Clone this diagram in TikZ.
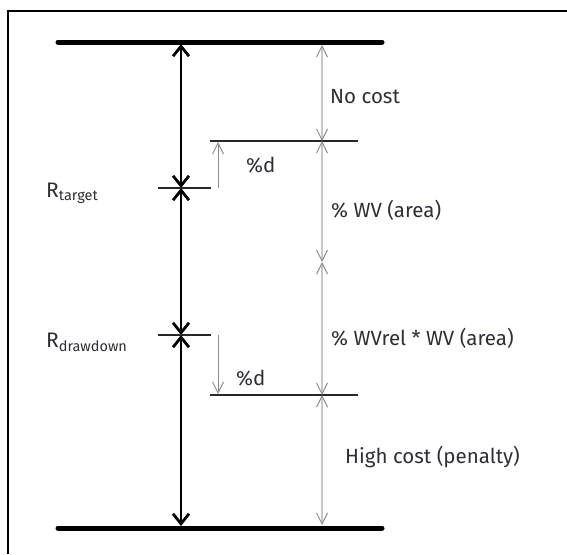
\documentclass[tikz,border=0pt]{standalone}
\usepackage{fontspec}
\setmainfont{Fira Sans}
\usetikzlibrary{arrows.meta}
\definecolor{txt}{HTML}{2E2E38}
\definecolor{lgray}{HTML}{C8C8C8}
\definecolor{tipgray}{HTML}{8C8C8C}
\begin{document}
\begin{tikzpicture}[x=1pt,y=-1pt,
  bar/.style={line width=5pt,line cap=round},
  frame/.style={line width=2pt},
  blk/.style={line width=2.8pt,{Straight Barb[length=10pt,width=16pt,line width=2.8pt]}-{Straight Barb[length=10pt,width=16pt,line width=2.8pt]}},
  gry/.style={line width=1.6pt,lgray,{Straight Barb[length=11pt,width=11pt,line width=1pt,color=tipgray]}-{Straight Barb[length=11pt,width=11pt,line width=1pt,color=tipgray]}},
  pct/.style={line width=1pt,tipgray,-{Straight Barb[length=11pt,width=11pt,line width=1pt]}},
  thin/.style={line width=1.2pt,black!85},
  lbl/.style={anchor=west,inner sep=0pt,text=txt,font=\fontsize{20.5}{24}\selectfont},
  rl/.style={anchor=west,inner sep=0pt,text=txt,font=\fontsize{21}{24}\selectfont}
]
\useasboundingbox (0,0) rectangle (567,554);
% frame
\draw[frame] (8,554) -- (8,11) -- (567,11);
% bars
\coordinate (tl) at (58,42); \coordinate (tr) at (382,42);
\coordinate (bl) at (58,528); \coordinate (br) at (382,528);
\draw[bar] (tl) -- (tr);
\draw[bar] (bl) -- (br);
% black column
\coordinate (b0) at (181,44);
\coordinate (b1) at (181,188);
\coordinate (b2) at (181,335);
\coordinate (b3) at (181,526);
\draw[blk] (b0) -- (b1);
\draw[blk] (b1) -- (b2);
\draw[blk] (b2) -- (b3);
% short R lines
\coordinate (rt1) at (158,188); \coordinate (rt2) at (211,188);
\coordinate (rd1) at (158,335); \coordinate (rd2) at (211,335);
\draw[thin] (rt1) -- (rt2);
\draw[thin] (rd1) -- (rd2);
% horizontal lines
\coordinate (h1a) at (210,141); \coordinate (h1b) at (358,141);
\coordinate (h2a) at (210,395); \coordinate (h2b) at (358,395);
\draw[thin] (h1a) -- (h1b);
\draw[thin] (h2a) -- (h2b);
% gray column
\coordinate (g0) at (322,45);
\coordinate (g1) at (322,141);
\coordinate (g2) at (322,262);
\coordinate (g3) at (322,395);
\coordinate (g4) at (322,525);
\draw[gry] (g0) -- (g1);
\draw[gry] (g1) -- (g2);
\draw[gry] (g2) -- (g3);
\draw[gry] (g3) -- (g4);
% %d arrows
\coordinate (d1s) at (218,188); \coordinate (d1e) at (218,142);
\coordinate (d2s) at (218,335); \coordinate (d2e) at (218,394);
\draw[pct] (d1s) -- (d1e);
\draw[pct] (d2s) -- (d2e);
% labels
\node[lbl] (nocost) at (330,97) {No cost};
\node[lbl] (pd1) at (246,165) {\%d};
\node[lbl] (wv) at (331,210) {\% WV (area)};
\node[lbl] (wvrel) at (331,338) {\% WVrel * WV (area)};
\node[lbl] (pd2) at (236,378) {\%d};
\node[lbl] (high) at (345,457) {High cost (penalty)};
\node[rl] (rtarget) at (46,193) {R\textsubscript{\fontsize{14.5}{16}\selectfont target}};
\node[rl] (rdraw) at (46,342) {R\textsubscript{\fontsize{14.5}{16}\selectfont drawdown}};
\end{tikzpicture}
\end{document}
